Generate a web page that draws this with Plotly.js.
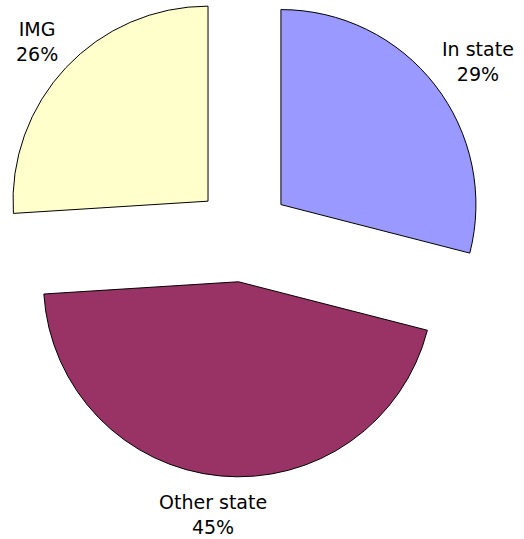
<!DOCTYPE html>
<html>
<head>
<meta charset="utf-8">
<script src="https://cdn.plot.ly/plotly-3.0.1.min.js"></script>
<style>
html, body { margin: 0; padding: 0; background: #ffffff; overflow: hidden; }
#chart { position: absolute; left: 0; top: -9px; width: 524px; height: 548px; }
</style>
</head>
<body>
<div id="chart"></div>
<script>
const labels = ["In state", "Other state", "IMG"];
const values = [29, 45, 26];
const colors = ["#9999FF", "#993366", "#FFFFCC"];

const W = 524, H = 548;
const PULL = 0.246;
const FONT_FAMILY = "DejaVu Sans, Verdana, sans-serif";
const FONT_SIZE = 19;

const total = values.reduce((a, b) => a + b, 0);
const pctText = values.map(v => Math.round(100 * v / total) + "%");

const trace = {
  type: "pie",
  labels: labels,
  values: values,
  sort: false,
  direction: "clockwise",
  rotation: 0,
  pull: labels.map(() => PULL),
  marker: { colors: colors, line: { color: "#000000", width: 1 } },
  textinfo: "none",
  domain: { x: [0, 486 / W], y: [1 - 486 / H, 1] },
  hoverinfo: "none",
  showlegend: false
};

const layout = {
  width: W,
  height: H,
  margin: { l: 0, r: 0, t: 0, b: 0 },
  paper_bgcolor: "#ffffff",
  plot_bgcolor: "#ffffff",
  showlegend: false,
  annotations: []
};

const gd = document.getElementById("chart");
Plotly.newPlot(gd, [trace], layout, { staticPlot: true, displayModeBar: false }).then(() => {
  const cd0 = gd.calcdata[0][0];
  const r = cd0.r, cx = cd0.cx, cy = cd0.cy;
  const ctx = document.createElement("canvas").getContext("2d");
  ctx.font = FONT_SIZE + "px DejaVu Sans";
  const gap = 19;
  let cum = 0;
  const anns = labels.map((lab, i) => {
    const mid = 2 * Math.PI * (cum + values[i] / 2) / total;
    cum += values[i];
    const dx = Math.sin(mid), dy = -Math.cos(mid);
    const w = Math.max(ctx.measureText(lab).width, ctx.measureText(pctText[i]).width);
    const h = FONT_SIZE * 2.05;
    const ax = cx + (PULL * r + r) * dx + dx * (w / 2 + gap);
    const ay = cy + (PULL * r + r) * dy + dy * (h / 2 + gap);
    return {
      x: ax / W, y: 1 - ay / H, xref: "paper", yref: "paper",
      xanchor: "center", yanchor: "middle", showarrow: false,
      text: lab + "<br>" + pctText[i], align: "center",
      font: { family: FONT_FAMILY, size: FONT_SIZE, color: "#000000" }
    };
  });
  return Plotly.relayout(gd, { annotations: anns });
});
</script>
</body>
</html>
